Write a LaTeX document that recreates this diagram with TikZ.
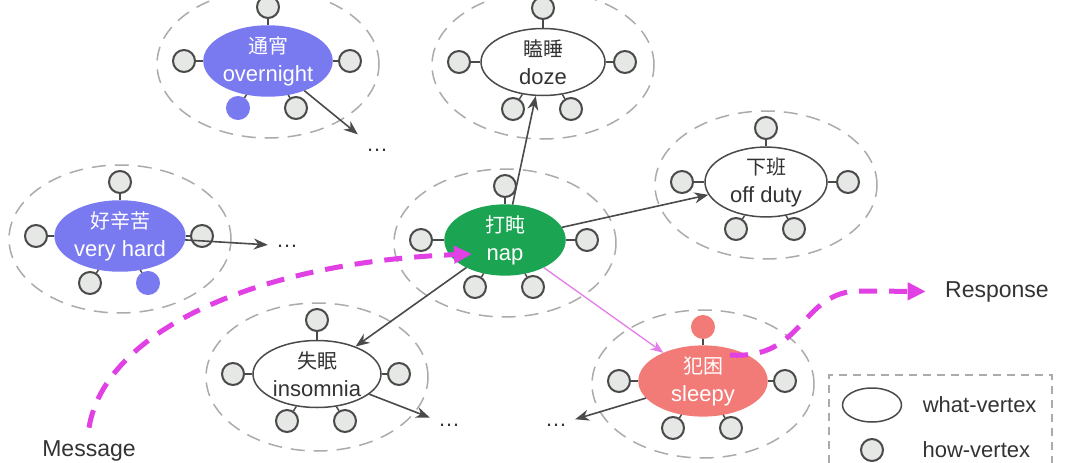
\documentclass[tikz,border=0pt]{standalone}
\usepackage{fontspec}
\setmainfont{Liberation Sans}
\newfontfamily\cjk{Noto Sans CJK SC}
\usetikzlibrary{positioning,shapes.geometric,arrows.meta}

\definecolor{purp}{HTML}{7A7AF0}
\definecolor{napgreen}{HTML}{1BA552}
\definecolor{salmon}{HTML}{F27B78}
\definecolor{mag}{HTML}{E040E4}
\definecolor{pinkline}{HTML}{E37BE8}
\definecolor{edge}{HTML}{4A4A4A}
\definecolor{ink}{HTML}{333333}
\definecolor{hfill}{HTML}{E5E8E5}
\definecolor{dashgray}{HTML}{ABABAB}

\newcommand{\zhtext}[1]{{\cjk\fontsize{20}{28}\selectfont #1}}

\begin{document}
\begin{tikzpicture}[
% pixel grid of the picture, y going down
    x=1pt, y=-1pt,
    what/.style={
        ellipse,
        draw=edge,
        line width=1.5pt,
        fill=white,
        text=ink,
        inner sep=0pt,
        minimum width=128pt,
        minimum height=67pt,
        align=center,
        font=\fontsize{22}{28}\selectfont
    },
    lit/.style={fill=#1, draw=#1, text=white},
    how/.style={
        circle,
        draw=edge,
        line width=2pt,
        fill=hfill,
        inner sep=0pt,
        minimum size=22pt
    },
    group/.style={draw=dashgray, line width=1.5pt, dash pattern=on 14pt off 9pt},
    link/.style={draw=edge, line width=1.6pt, -{Stealth[length=14pt,width=11pt]}},
    flow/.style={draw=mag, line width=5pt, dash pattern=on 18pt off 12pt,
        -{Triangle[length=18pt,width=17pt]}},
    more/.style={font=\fontsize{22}{26}\selectfont, text=ink, inner xsep=8pt, inner ysep=16pt},
    word/.style={font=\fontsize{23}{26}\selectfont, text=ink}
]
\useasboundingbox (0,0) rectangle (1080,463);

% what-vertices
\node[what, lit=purp] (overnight) at (268,61) {\zhtext{通宵}\\overnight};
\node[what, minimum width=124pt] (doze) at (543,62) {\zhtext{瞌睡}\\doze};
\node[what, lit=purp] (hard) at (120,236) {\zhtext{好辛苦}\\very hard};
\node[what, lit=napgreen, minimum width=120pt] (nap) at (505,240) {\zhtext{打盹}\\nap};
\node[what, minimum width=122pt] (duty) at (766,182) {\zhtext{下班}\\off duty};
\node[what] (insomnia) at (317,374) {\zhtext{失眠}\\insomnia};
\node[what, lit=salmon] (sleepy) at (703,381) {\zhtext{犯困}\\sleepy};

% how-vertices and dashed groups
\foreach \n/\k/\col in {overnight/4/purp, doze/0/none, hard/5/purp, nap/0/none,
        duty/0/none, insomnia/0/none, sleepy/1/salmon} {
    \draw[group] ([yshift=-3pt]\n) ellipse [x radius=111pt, y radius=74pt];
    \foreach \dx/\dy [count=\i] in {0/-54, -84/0, 82/0, -30/47, 28/47} {
        \ifnum\i=\k \def\hf{\col}\def\hd{\col}\else\def\hf{hfill}\def\hd{edge}\fi
        \node[how, fill=\hf, draw=\hd] (\n-\i) at ([shift={(\dx,\dy)}]\n) {};
        \draw[edge, line width=1.5pt] (\n-\i) -- (\n);
    }
}

% open ends
\node[more] (overdots) at (377,150) {…};
\node[more] (harddots) at (287,246) {…};
\node[more] (insdots) at (449,425) {…};
\node[more] (sleepdots) at (556,425) {…};

% links
\draw[link] (nap) -- (doze);
\draw[link] (nap) -- (duty);
\draw[link] (nap) -- (insomnia);
\draw[draw=pinkline, line width=1.3pt, -{Stealth[length=13pt,width=10pt]}] (nap) -- (sleepy);
\draw[link] (overnight) -- (overdots);
\draw[link] (hard) -- (harddots);
\draw[link] (insomnia) -- (insdots);
\draw[link] (sleepy) -- (sleepdots);

% message and response
\node[word, anchor=base] (msg) at (89,456) {Message};
\node[word, anchor=base] (resp) at (997,297) {Response};
\coordinate (napin) at ([shift={(-33,14)}]nap);
\coordinate (sleepout) at ([shift={(27,-26)}]sleepy);
\draw[flow] ([yshift=9pt]msg.north) .. controls (105,330) and (260,262) .. (napin);
\draw[flow] (sleepout) .. controls (805,360) and (800,291) .. (860,291) -- ([xshift=-16pt]resp.west);

% legend
\draw[draw=dashgray, line width=1.2pt, dash pattern=on 8pt off 6pt]
    (829,463) |- (1052,375) -- (1052,463);
\node[what, minimum width=59pt, minimum height=34pt] (legwhat) at (872,405) {};
\node[how] (leghow) at (872,450) {};
\node[word, font=\fontsize{22}{26}\selectfont, right=17pt of legwhat] {what-vertex};
\node[word, font=\fontsize{22}{26}\selectfont, right=35pt of leghow] {how-vertex};

\end{tikzpicture}
\end{document}
